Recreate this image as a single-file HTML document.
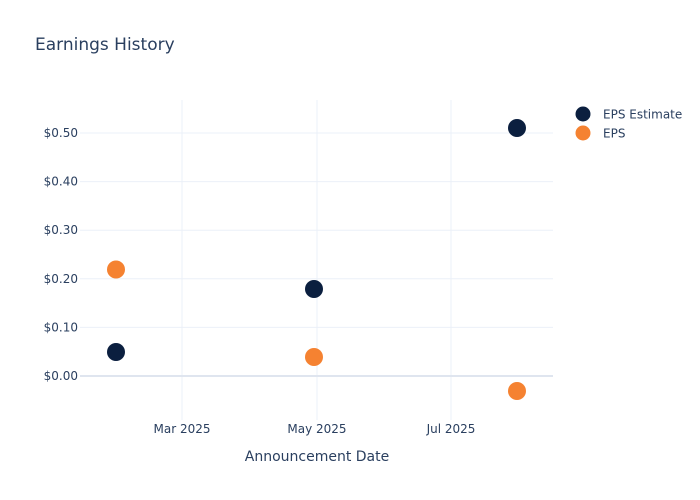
<!DOCTYPE html>
<html><head><style>body{margin:0;background:#fff}svg{display:block;font-family:"DejaVu Sans",sans-serif}</style></head>
<body>
<svg width="700" height="500" viewBox="0 0 700 500">
<rect width="700" height="500" fill="#fff"/>
<g stroke="#ebf0f8" stroke-width="1">
<line x1="182" y1="100" x2="182" y2="420"/>
<line x1="317" y1="100" x2="317" y2="420"/>
<line x1="451" y1="100" x2="451" y2="420"/>
<line x1="80" y1="133" x2="553" y2="133"/>
<line x1="80" y1="181.6" x2="553" y2="181.6"/>
<line x1="80" y1="230.2" x2="553" y2="230.2"/>
<line x1="80" y1="278.8" x2="553" y2="278.8"/>
<line x1="80" y1="327.4" x2="553" y2="327.4"/>
</g>
<line x1="80" y1="376" x2="553" y2="376" stroke="#dfe5ef" stroke-width="2"/>
<g font-size="12" fill="#2a3f5f" text-anchor="end">
<text x="78" y="137">$0.50</text>
<text x="78" y="185.6">$0.40</text>
<text x="78" y="234.2">$0.30</text>
<text x="78" y="282.8">$0.20</text>
<text x="78" y="331.4">$0.10</text>
<text x="78" y="380">$0.00</text>
</g>
<g font-size="12" fill="#2a3f5f" text-anchor="middle">
<text x="182" y="433">Mar 2025</text>
<text x="317" y="433">May 2025</text>
<text x="451" y="433">Jul 2025</text>
</g>
<text x="317" y="461" font-size="14" fill="#2a3f5f" text-anchor="middle">Announcement Date</text>
<text x="35" y="50" font-size="17" fill="#2a3f5f">Earnings History</text>
<g fill="#0b1f3f">
<circle cx="116" cy="352" r="9"/>
<circle cx="314" cy="289" r="9"/>
<circle cx="517" cy="128" r="9"/>
</g>
<g fill="#f58231">
<circle cx="116" cy="269.5" r="9"/>
<circle cx="314" cy="357" r="9"/>
<circle cx="517" cy="391" r="9"/>
</g>
<circle cx="583" cy="114" r="7.5" fill="#0b1f3f"/>
<circle cx="583" cy="133" r="7.5" fill="#f58231"/>
<g font-size="12" fill="#2a3f5f">
<text x="603" y="118.5">EPS Estimate</text>
<text x="603" y="137.5">EPS</text>
</g>
</svg>
</body></html>
